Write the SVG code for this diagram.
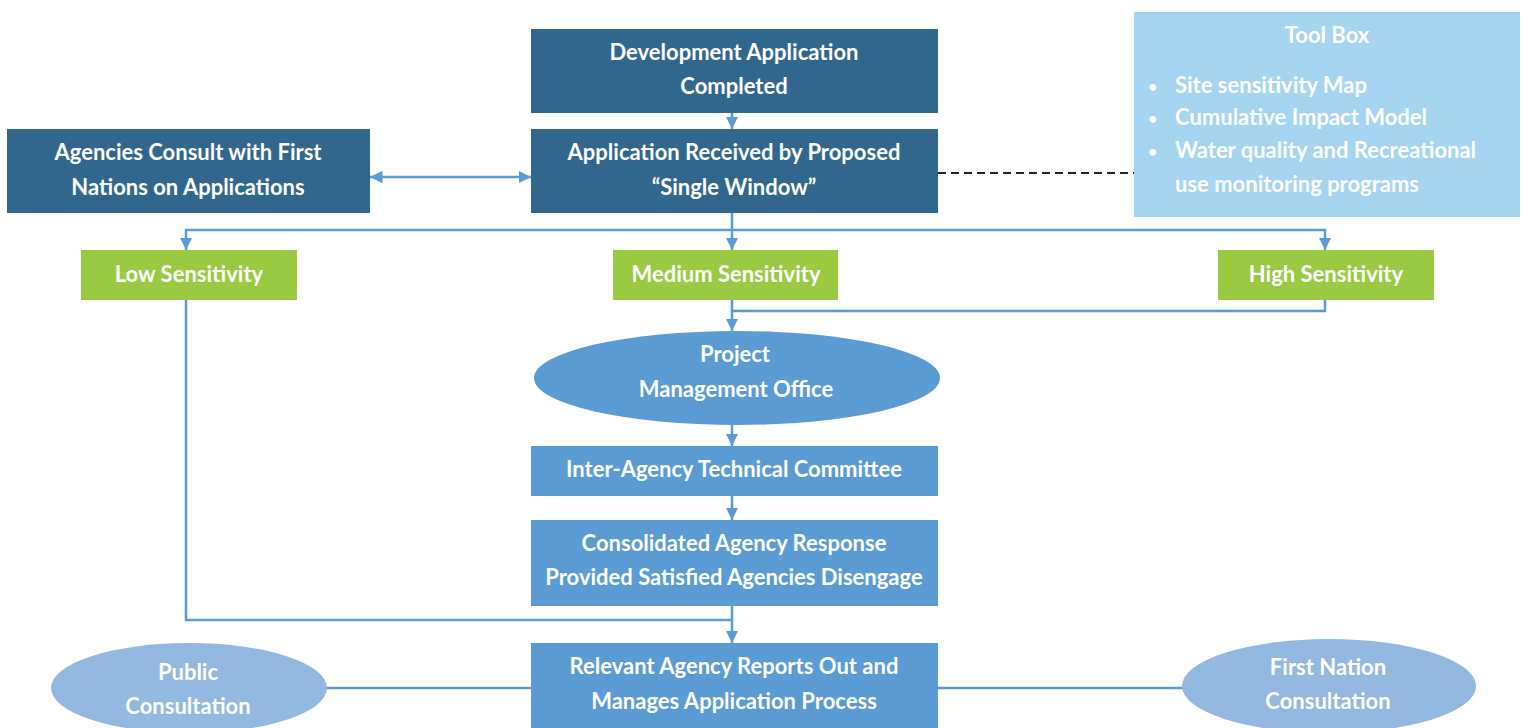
<svg xmlns="http://www.w3.org/2000/svg" width="1526" height="728" viewBox="0 0 1526 728">
<style>
.dark{fill:#31668d}
.green{fill:#9aca42}
.mid{fill:#5a9bd3}
.light{fill:#93b8e0}
.tool{fill:#a6d5f1}
text{font-family:Lato,"Open Sans","Liberation Sans",sans-serif;font-weight:700;font-size:22px;fill:#fff;text-anchor:middle}
.l{text-anchor:start}
.b{font-size:16px}
.conn{fill:none;stroke:#5b9bd5;stroke-width:2.5}
.dash{fill:none;stroke:#222;stroke-width:2;stroke-dasharray:8 5}
</style>
<defs>
<marker id="ah" viewBox="0 0 10 10" refX="10" refY="5" markerWidth="5" markerHeight="5" orient="auto-start-reverse"><path d="M0,0 L10,5 L0,10 z" fill="#5b9bd5"/></marker>
</defs>
<g id="connectors">
<line class="conn" x1="732" y1="113" x2="732" y2="129" marker-end="url(#ah)"/>
<line class="conn" x1="370" y1="177" x2="531" y2="177" marker-start="url(#ah)" marker-end="url(#ah)"/>
<line class="dash" x1="938" y1="173" x2="1134" y2="173"/>
<line class="conn" x1="732" y1="213" x2="732" y2="250" marker-end="url(#ah)"/>
<polyline class="conn" points="186,250 186,230 1325,230 1325,250" marker-start="url(#ah)" marker-end="url(#ah)"/>
<line class="conn" x1="732" y1="300" x2="732" y2="331" marker-end="url(#ah)"/>
<polyline class="conn" points="1325,300 1325,311 732,311"/>
<line class="conn" x1="732" y1="425" x2="732" y2="446" marker-end="url(#ah)"/>
<line class="conn" x1="732" y1="496" x2="732" y2="520" marker-end="url(#ah)"/>
<line class="conn" x1="732" y1="606" x2="732" y2="643" marker-end="url(#ah)"/>
<polyline class="conn" points="186,300 186,620 732,620"/>
<line class="conn" x1="325" y1="688" x2="531" y2="688"/>
<line class="conn" x1="938" y1="688" x2="1183" y2="688"/>
</g>
<g id="dev-app">
<rect class="dark" x="531" y="29" width="407" height="84"/>
<text x="734" y="60">Development Application</text>
<text x="734" y="94">Completed</text>
</g>
<g id="app-received">
<rect class="dark" x="531" y="129" width="407" height="84"/>
<text x="734" y="160">Application Received by Proposed</text>
<text x="734" y="195">“Single Window”</text>
</g>
<g id="agencies-consult">
<rect class="dark" x="7" y="129" width="363" height="84"/>
<text x="188" y="160">Agencies Consult with First</text>
<text x="188" y="195">Nations on Applications</text>
</g>
<g id="toolbox">
<rect class="tool" x="1134" y="12" width="386" height="205"/>
<text x="1327" y="43">Tool Box</text>
<text class="l b" x="1148" y="92">•</text>
<text class="l" x="1175" y="93">Site sensitivity Map</text>
<text class="l b" x="1148" y="124">•</text>
<text class="l" x="1175" y="125">Cumulative Impact Model</text>
<text class="l b" x="1148" y="157">•</text>
<text class="l" x="1175" y="158">Water quality and Recreational</text>
<text class="l" x="1175" y="192">use monitoring programs</text>
</g>
<g id="low">
<rect class="green" x="81" y="250" width="216" height="50"/>
<text x="189" y="282">Low Sensitivity</text>
</g>
<g id="medium">
<rect class="green" x="613" y="250" width="225" height="50"/>
<text x="726" y="282">Medium Sensitivity</text>
</g>
<g id="high">
<rect class="green" x="1218" y="250" width="216" height="50"/>
<text x="1326" y="282">High Sensitivity</text>
</g>
<g id="pmo">
<ellipse class="mid" cx="737" cy="378" rx="203" ry="47"/>
<text x="735" y="362">Project</text>
<text x="736" y="397">Management Office</text>
</g>
<g id="inter-agency">
<rect class="mid" x="531" y="446" width="407" height="50"/>
<text x="734" y="477">Inter-Agency Technical Committee</text>
</g>
<g id="consolidated">
<rect class="mid" x="531" y="520" width="407" height="86"/>
<text x="734" y="551">Consolidated Agency Response</text>
<text x="734" y="585">Provided Satisfied Agencies Disengage</text>
</g>
<g id="relevant">
<rect class="mid" x="531" y="643" width="407" height="85"/>
<text x="734" y="674">Relevant Agency Reports Out and</text>
<text x="734" y="709">Manages Application Process</text>
</g>
<g id="public">
<ellipse class="light" cx="189" cy="688" rx="138" ry="45"/>
<text x="188" y="680">Public</text>
<text x="188" y="714">Consultation</text>
</g>
<g id="first-nation">
<ellipse class="light" cx="1329" cy="686" rx="147" ry="47"/>
<text x="1328" y="675">First Nation</text>
<text x="1328" y="709">Consultation</text>
</g>
</svg>
